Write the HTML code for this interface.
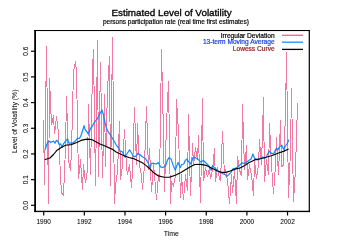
<!DOCTYPE html>
<html><head><meta charset="utf-8"><style>
html,body{margin:0;padding:0;background:#fff;}
svg{display:block;will-change:transform;}
text{font-family:"Liberation Sans",sans-serif;}
</style></head><body>
<svg width="342" height="249" viewBox="0 0 342 249">
<rect x="0" y="0" width="342" height="249" fill="#fff"/>
<text x="171.5" y="16.4" font-size="9.9" text-anchor="middle" fill="#000" stroke="#000" stroke-width="0.32">Estimated Level of Volatility</text>
<text x="175.9" y="23.6" font-size="6.5" text-anchor="middle" fill="#000" stroke="#000" stroke-width="0.18">persons participation rate (real time first estimates)</text>
<g fill="none" stroke-linejoin="round" stroke-linecap="round">
<path d="M43.5,121.0 L44.5,185.0 L46.5,47.0 L48.5,204.0 L49.5,79.0 L51.5,125.0 L53.5,116.0 L54.5,134.0 L56.5,117.0 L58.5,133.0 L60.5,176.0 L61.5,193.0 L63.5,195.0 L65.5,148.0 L66.5,97.0 L68.5,160.0 L70.5,171.0 L71.5,150.0 L73.5,71.0 L75.5,62.0 L76.5,72.0 L78.5,179.0 L80.5,160.0 L82.5,190.0 L83.5,165.0 L85.5,183.0 L87.5,170.0 L88.5,105.0 L90.5,175.0 L92.5,68.0 L93.5,50.0 L95.5,186.0 L97.5,41.0 L98.5,177.0 L100.5,63.0 L102.5,178.0 L104.5,95.0 L105.5,167.0 L107.5,89.0 L109.5,57.0 L110.5,186.0 L112.5,38.0 L114.5,204.0 L115.5,185.0 L117.5,172.0 L119.5,122.0 L120.5,180.0 L122.5,165.0 L124.5,130.0 L126.5,167.0 L127.5,175.0 L129.5,165.0 L131.5,188.0 L132.5,170.0 L134.5,108.0 L136.5,165.0 L137.5,124.0 L139.5,165.0 L141.5,175.0 L142.5,190.0 L144.5,165.0 L146.5,107.0 L148.5,170.0 L149.5,149.0 L151.5,192.0 L153.5,165.0 L154.5,175.0 L156.5,200.0 L158.5,175.0 L159.5,182.0 L161.5,50.0 L163.5,134.0 L164.5,192.0 L166.5,123.0 L168.5,82.0 L170.5,204.0 L171.5,182.0 L173.5,186.0 L175.5,175.0 L176.5,100.0 L178.5,132.0 L180.5,198.0 L181.5,175.0 L183.5,200.0 L185.5,175.0 L187.5,191.0 L188.5,115.0 L190.5,196.0 L192.5,144.0 L193.5,165.0 L195.5,148.0 L197.5,160.0 L198.5,136.0 L200.5,203.0 L202.5,99.0 L203.5,181.0 L205.5,168.0 L207.5,177.0 L209.5,168.0 L210.5,179.0 L212.5,170.0 L214.5,149.0 L215.5,182.0 L217.5,168.0 L219.5,178.0 L220.5,181.0 L222.5,132.0 L224.5,175.0 L225.5,170.0 L227.5,180.0 L229.5,204.0 L231.5,175.0 L232.5,193.0 L234.5,170.0 L236.5,204.0 L237.5,157.0 L239.5,170.0 L241.5,176.0 L242.5,105.0 L244.5,170.0 L246.5,146.0 L247.5,180.0 L249.5,165.0 L251.5,175.0 L253.5,196.0 L254.5,160.0 L256.5,179.0 L258.5,165.0 L259.5,140.0 L261.5,165.0 L263.5,98.0 L264.5,182.0 L266.5,160.0 L268.5,175.0 L269.5,124.0 L271.5,165.0 L273.5,194.0 L275.5,165.0 L276.5,138.0 L278.5,175.0 L280.5,121.0 L281.5,167.0 L283.5,165.0 L285.5,114.0 L286.5,53.0 L288.5,198.0 L290.5,150.0 L291.5,89.0 L293.5,202.0 L295.5,169.0 L297.5,104.0" stroke="#F27AA2" stroke-width="1" shape-rendering="crispEdges"/>
<path d="M45.1,149.5 L46.5,145.3 L47.9,141.8 L49.3,141.1 L50.7,142.5 L52.1,141.8 L53.5,141.1 L55.0,143.2 L56.4,140.4 L57.8,141.1 L59.2,144.6 L60.6,143.9 L62.0,147.4 L63.4,143.9 L65.5,141.1 L67.6,139.0 L69.0,143.2 L71.1,143.2 L73.2,142.5 L75.3,141.1 L77.5,138.3 L79.6,138.3 L81.0,135.5 L82.4,131.3 L84.1,125.6 L85.2,129.8 L86.6,131.3 L88.2,133.8 L89.5,131.3 L90.6,128.1 L92.2,126.5 L93.8,123.3 L95.5,120.9 L97.5,118.5 L99.5,114.5 L100.7,112.2 L102.1,110.1 L103.5,115.0 L104.9,122.1 L106.3,127.7 L107.7,131.2 L109.8,134.0 L112.0,137.5 L114.1,141.3 L116.2,144.8 L118.3,147.7 L120.4,151.2 L122.5,151.9 L124.7,156.8 L126.8,154.0 L129.6,149.8 L131.7,153.3 L133.8,156.8 L135.9,156.1 L138.0,153.3 L140.1,154.7 L142.2,156.8 L145.1,158.2 L147.9,162.4 L150.0,168.0 L151.4,163.3 L153.5,163.3 L156.3,164.0 L158.4,162.6 L160.5,166.8 L162.7,167.5 L165.5,166.1 L167.6,159.8 L169.0,157.7 L171.1,159.1 L173.2,165.4 L175.3,170.3 L176.7,166.1 L178.1,162.6 L180.2,167.5 L181.6,164.7 L183.8,164.0 L185.2,160.5 L186.8,159.1 L188.7,161.9 L190.8,164.0 L192.9,157.7 L195.0,157.5 L197.8,159.1 L200.6,161.9 L203.4,160.5 L206.3,163.3 L209.1,166.1 L211.2,170.3 L212.6,165.4 L214.7,168.2 L217.5,170.3 L220.3,172.4 L223.1,173.8 L225.2,174.5 L226.6,176.6 L228.8,174.5 L230.9,172.4 L233.0,168.9 L235.8,168.2 L237.9,166.8 L240.0,165.0 L242.2,162.8 L244.4,163.5 L246.6,162.0 L248.8,160.6 L251.0,159.1 L252.9,154.0 L254.6,158.4 L257.5,159.9 L260.5,158.4 L262.7,156.9 L264.9,158.4 L267.0,155.5 L269.2,151.1 L271.4,153.3 L273.6,154.0 L276.3,148.2 L278.0,149.6 L279.5,146.7 L281.7,145.2 L283.9,149.6 L285.3,146.0 L287.5,143.0 L288.7,140.1" stroke="#1388FF" stroke-width="1.25"/>
<path d="M45.1,159.5 L50.0,158.0 L53.5,154.5 L57.1,150.2 L61.3,147.4 L65.5,145.3 L71.1,144.6 L76.8,142.5 L81.0,140.4 L85.2,139.4 L88.1,139.1 L92.2,139.7 L99.4,143.8 L105.0,146.0 L112.0,149.1 L116.2,151.9 L120.4,154.0 L124.7,156.1 L128.9,157.5 L134.5,158.9 L138.7,161.0 L142.9,163.1 L146.5,165.9 L150.0,169.0 L154.2,173.1 L158.4,175.9 L164.1,177.3 L169.7,177.1 L175.3,175.2 L180.9,172.4 L186.6,168.9 L192.2,165.8 L195.0,164.5 L200.6,164.4 L206.3,165.4 L211.9,168.2 L217.5,171.0 L221.7,172.4 L225.9,172.4 L230.2,171.0 L235.8,168.9 L240.0,168.0 L244.4,165.7 L248.8,162.8 L254.6,159.9 L260.5,158.7 L266.3,157.2 L272.2,155.5 L278.0,153.3 L283.9,151.1 L288.2,149.2" stroke="#000" stroke-width="1.15"/>
</g>
<g stroke="#000" stroke-width="1.3" fill="none">
</g><g fill="#000"><rect x="34.2" y="30" width="1.8" height="182.1"/><rect x="34.2" y="30" width="275.7" height="1.05"/><rect x="308.7" y="30" width="1.2" height="182.1"/><rect x="34.2" y="210.75" width="275.7" height="1.35"/></g><g stroke="#000" stroke-width="1.2" fill="none">
<line x1="31" y1="205.30" x2="35" y2="205.30"/><line x1="31" y1="179.62" x2="35" y2="179.62"/><line x1="31" y1="153.94" x2="35" y2="153.94"/><line x1="31" y1="128.26" x2="35" y2="128.26"/><line x1="31" y1="102.58" x2="35" y2="102.58"/><line x1="31" y1="76.90" x2="35" y2="76.90"/><line x1="31" y1="51.22" x2="35" y2="51.22"/><line x1="43.70" y1="211" x2="43.70" y2="215.5"/><line x1="84.34" y1="211" x2="84.34" y2="215.5"/><line x1="124.98" y1="211" x2="124.98" y2="215.5"/><line x1="165.62" y1="211" x2="165.62" y2="215.5"/><line x1="206.26" y1="211" x2="206.26" y2="215.5"/><line x1="246.90" y1="211" x2="246.90" y2="215.5"/><line x1="287.54" y1="211" x2="287.54" y2="215.5"/>
</g>
<g font-size="6.5" fill="#000" stroke="#000" stroke-width="0.05"><text transform="translate(28.3,205.30) rotate(-90)" text-anchor="middle">0.0</text><text transform="translate(28.3,179.62) rotate(-90)" text-anchor="middle">0.1</text><text transform="translate(28.3,153.94) rotate(-90)" text-anchor="middle">0.2</text><text transform="translate(28.3,128.26) rotate(-90)" text-anchor="middle">0.3</text><text transform="translate(28.3,102.58) rotate(-90)" text-anchor="middle">0.4</text><text transform="translate(28.3,76.90) rotate(-90)" text-anchor="middle">0.5</text><text transform="translate(28.3,51.22) rotate(-90)" text-anchor="middle">0.6</text><text x="43.70" y="224.2" text-anchor="middle">1990</text><text x="84.34" y="224.2" text-anchor="middle">1992</text><text x="124.98" y="224.2" text-anchor="middle">1994</text><text x="165.62" y="224.2" text-anchor="middle">1996</text><text x="206.26" y="224.2" text-anchor="middle">1998</text><text x="246.90" y="224.2" text-anchor="middle">2000</text><text x="287.54" y="224.2" text-anchor="middle">2002</text></g>
<text transform="translate(17.3,121.3) rotate(-90)" font-size="6.85" text-anchor="middle" fill="#000" stroke="#000" stroke-width="0.05">Level of Volatility (%)</text>
<text x="171.2" y="236.2" font-size="6.9" text-anchor="middle" fill="#000" stroke="#000" stroke-width="0.05">Time</text>
<g font-size="6.6" text-anchor="end">
<text x="274.6" y="37.6" fill="#000" stroke="#000" stroke-width="0.2">Irregular Deviation</text>
<text x="274.6" y="44.4" fill="#1A3CE0" stroke="#1A3CE0" stroke-width="0.2">13-term Moving Average</text>
<text x="274.6" y="51.2" fill="#8B1A1A" stroke="#8B1A1A" stroke-width="0.2">Lowess Curve</text>
</g>
<g stroke-width="1.3">
<line x1="282" y1="35.3" x2="303" y2="35.3" stroke="#F0628F"/>
<line x1="282" y1="42.2" x2="303" y2="42.2" stroke="#1E8CFF"/>
<line x1="282" y1="49.4" x2="303" y2="49.4" stroke="#000"/>
</g>
</svg>
</body></html>
